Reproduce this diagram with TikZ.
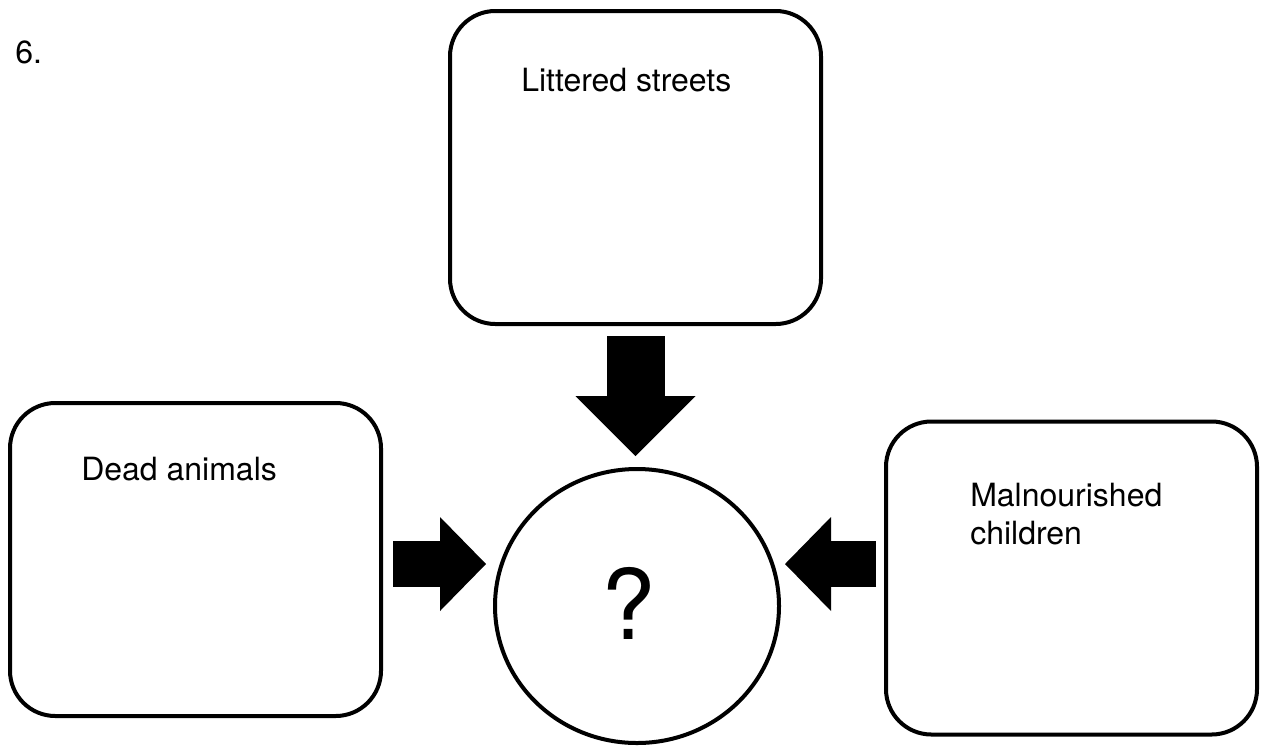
\documentclass[tikz,border=0pt]{standalone}
\usepackage{fontspec}
\setmainfont{TeX Gyre Heros}
\usetikzlibrary{calc}
\usetikzlibrary{shapes.geometric}
\usetikzlibrary{arrows.meta}

\begin{document}
\begin{tikzpicture}[x=0.75pt,y=-0.75pt,
	box/.style={draw,line width=3pt,rounded corners=34pt,minimum width=278.25pt,minimum height=234.75pt,inner sep=0pt},
	lbl/.style={inner sep=0pt,anchor=base west,align=left,font=\fontsize{24pt}{28.5pt}\selectfont},
	bigdown/.style={line width=43.5pt,-{Triangle[width=90pt,length=45pt,line width=0pt]}},
	bigside/.style={line width=34.5pt,-{Triangle[width=70.5pt,length=34.5pt,line width=0pt]}}]
	\useasboundingbox (0,0) rectangle (1262,747);
	\node[lbl] (num) at (15,63) {6.};
	\node[box] (lit) at (635.5,167.5) {};
	\node[box] (dead) at (195.5,559.5) {};
	\node[box] (mal) at (1071.5,578) {};
	\node[ellipse,draw,line width=3pt,minimum width=213pt,minimum height=205.5pt,inner sep=0pt] (q) at (637,606) {};
	\node[lbl] (litText) at ($(lit.north west)+(73,82)$) {Littered streets};
	\node[lbl] (deadText) at ($(dead.north west)+(73,79)$) {Dead animals};
	\node[lbl] (malText) at ($(mal.north west)+(86,125)$) {Malnourished\\children};
	\node[inner sep=0pt,anchor=base,font=\fontsize{73pt}{80pt}\selectfont] (qmark) at (628.5,639) {?};
	\coordinate (ta) at ($(lit.south)+(0,10)$);
	\coordinate (tb) at ($(ta |- q.north)+(0,-11)$);
	\coordinate (la) at ($(dead.east)+(10,4.5)$);
	\coordinate (lb) at ($(la -| q.west)+(-7,0)$);
	\coordinate (ra) at ($(mal.west)+(-8,-14)$);
	\coordinate (rb) at ($(ra -| q.east)+(4,0)$);
	\draw[bigdown] (ta) -- (tb);
	\draw[bigside] (la) -- (lb);
	\draw[bigside] (ra) -- (rb);
\end{tikzpicture}
\end{document}
